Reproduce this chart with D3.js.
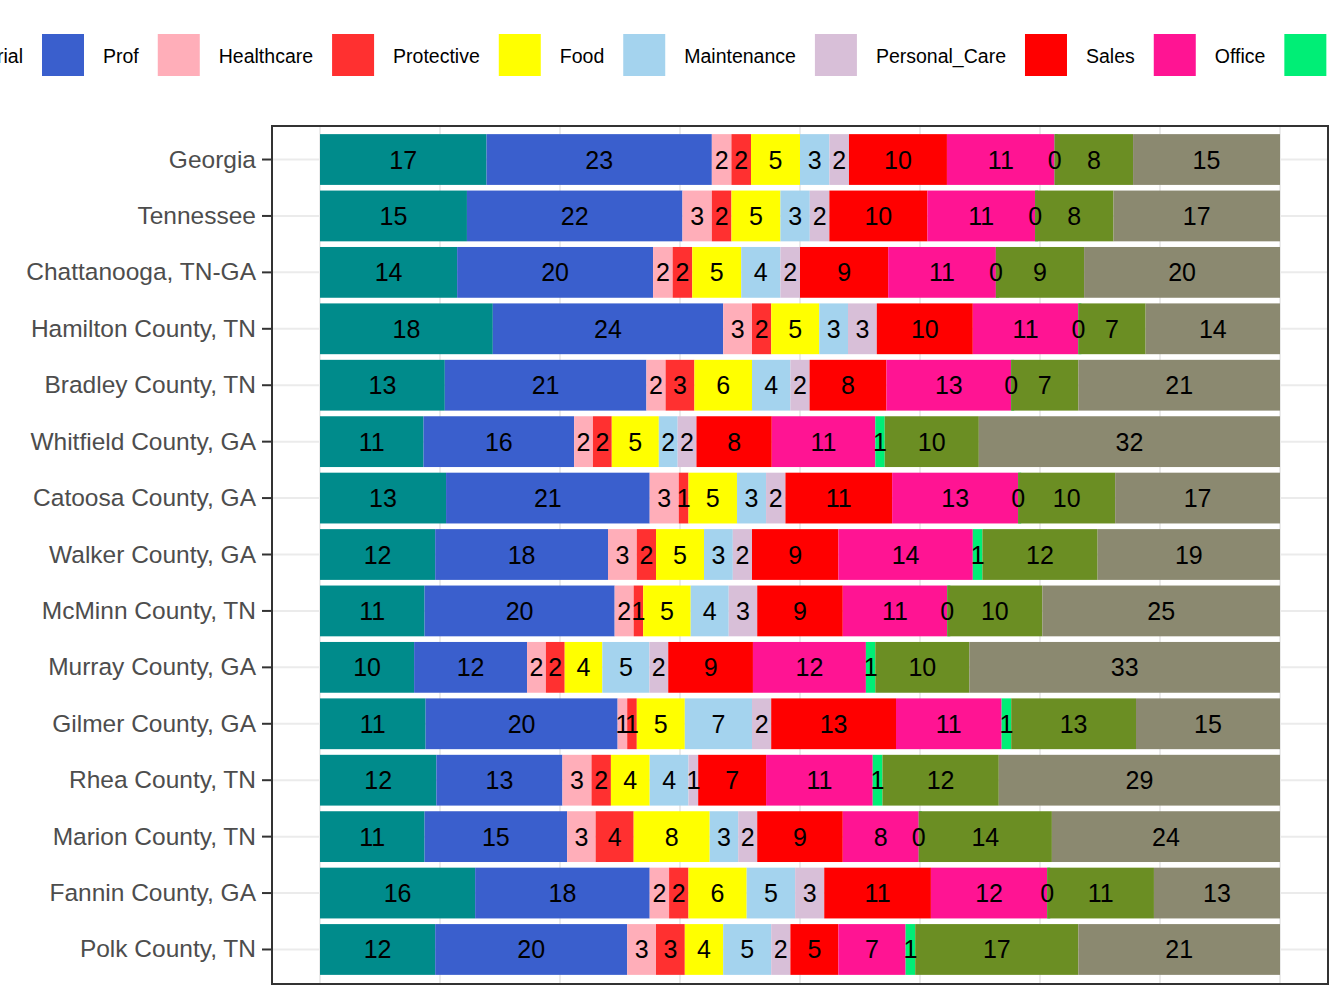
<!doctype html>
<html lang="en">
<head>
  <meta charset="utf-8">
  <title>Occupation mix</title>
  <script src="https://d3js.org/d3.v7.min.js"></script>
  <style>body{margin:0;background:#fff;} text{font-family:'Liberation Sans',Arial,sans-serif;}</style>
</head>
<body>
  <div id="chart"></div>
  <script type="text/javascript">
    var width = 1344, height = 1008;

    // occupation groups, in stack order
    var groups = ['Managerial','Prof','Healthcare','Protective','Food','Maintenance','Personal_Care','Sales','Office','Agriculture','Construction','Production'];
    var colors = ['#008B8B','#3A5FCD','#FFAEB9','#FF3030','#FFFF00','#A4D3EE','#D8BFD8','#FF0000','#FF1493','#00EE76','#6B8E23','#8B8970'];

    var places = ['Georgia','Tennessee','Chattanooga, TN-GA','Hamilton County, TN','Bradley County, TN','Whitfield County, GA','Catoosa County, GA','Walker County, GA','McMinn County, TN','Murray County, GA','Gilmer County, GA','Rhea County, TN','Marion County, TN','Fannin County, GA','Polk County, TN'];

    // percent of workers per group, one row per place
    var values = [
      [17,23,2,2,5,3,2,10,11,0,8,15],
      [15,22,3,2,5,3,2,10,11,0,8,17],
      [14,20,2,2,5,4,2,9,11,0,9,20],
      [18,24,3,2,5,3,3,10,11,0,7,14],
      [13,21,2,3,6,4,2,8,13,0,7,21],
      [11,16,2,2,5,2,2,8,11,1,10,32],
      [13,21,3,1,5,3,2,11,13,0,10,17],
      [12,18,3,2,5,3,2,9,14,1,12,19],
      [11,20,2,1,5,4,3,9,11,0,10,25],
      [10,12,2,2,4,5,2,9,12,1,10,33],
      [11,20,1,1,5,7,2,13,11,1,13,15],
      [12,13,3,2,4,4,1,7,11,1,12,29],
      [11,15,3,4,8,3,2,9,8,0,14,24],
      [16,18,2,2,6,5,3,11,12,0,11,13],
      [12,20,3,3,4,5,2,5,7,1,17,21]
    ];

    var svg = d3.select('#chart').append('svg')
                .attr('width', width).attr('height', height);

    var panel = {left: 272, right: 1328, top: 126, bottom: 984};

    var x = d3.scaleLinear().domain([0, 1]).range([320, 1280]);
    var y = d3.scaleBand().domain(places).range([panel.top + 7, panel.bottom - 8]).paddingInner(0.1).paddingOuter(0.02);

    // gridlines
    svg.append('g').selectAll('line').data(d3.range(0, 1.0001, 0.125)).enter().append('line')
       .attr('x1', function(d){return x(d);}).attr('x2', function(d){return x(d);})
       .attr('y1', panel.top).attr('y2', panel.bottom)
       .attr('stroke', '#ebebeb').attr('stroke-width', 2);
    svg.append('g').selectAll('line').data(places).enter().append('line')
       .attr('x1', panel.left).attr('x2', panel.right)
       .attr('y1', function(d){return y(d) + y.bandwidth()/2;})
       .attr('y2', function(d){return y(d) + y.bandwidth()/2;})
       .attr('stroke', '#ebebeb').attr('stroke-width', 2);

    var rows = places.map(function(p, i){
      var o = {place: p};
      groups.forEach(function(g, j){ o[g] = values[i][j]; });
      return o;
    });
    var series = d3.stack().keys(groups).offset(d3.stackOffsetExpand)(rows);

    var layer = svg.append('g').selectAll('g').data(series).enter().append('g')
                   .attr('fill', function(d, i){ return colors[i]; });
    layer.selectAll('rect').data(function(d){ return d; }).enter().append('rect')
         .attr('x', function(d){ return x(d[0]); })
         .attr('width', function(d){ return Math.max(x(d[1]) - x(d[0]), 3); })
         .attr('y', function(d){ return y(d.data.place); })
         .attr('height', y.bandwidth());

    series.forEach(function(s){
      svg.append('g').selectAll('text').data(s).enter().append('text')
         .attr('x', function(d){ return (x(d[0]) + x(d[1]))/2; })
         .attr('y', function(d){ return y(d.data.place) + y.bandwidth()/2 + 9; })
         .attr('text-anchor', 'middle').attr('font-size', 25).attr('fill', '#000')
         .text(function(d){ return d.data[s.key]; });
    });

    svg.append('rect').attr('x', panel.left).attr('y', panel.top)
       .attr('width', panel.right - panel.left).attr('height', panel.bottom - panel.top)
       .attr('fill', 'none').attr('stroke', '#333').attr('stroke-width', 2);

    // y axis
    var yAxis = svg.append('g').selectAll('g').data(places).enter().append('g');
    yAxis.append('line').attr('x1', 262).attr('x2', panel.left)
         .attr('y1', function(d){return y(d) + y.bandwidth()/2;})
         .attr('y2', function(d){return y(d) + y.bandwidth()/2;})
         .attr('stroke', '#333').attr('stroke-width', 2);
    yAxis.append('text').attr('x', 256)
         .attr('y', function(d){return y(d) + y.bandwidth()/2 + 8;})
         .attr('text-anchor', 'end').attr('font-size', 24.5).attr('fill', '#4d4d4d')
         .text(function(d){return d;});

    // legend, laid out left to right and clipped at the page edge
    var legend = svg.append('g');
    var measure = legend.append('text').attr('font-size', 19.5).text(groups[0]);
    var pos = 42 - 19 - measure.node().getComputedTextLength() - 19 - 42;
    measure.remove();
    groups.forEach(function(g, i){
      legend.append('rect').attr('x', pos).attr('y', 34).attr('width', 42).attr('height', 42)
            .attr('fill', colors[i]);
      var t = legend.append('text').attr('x', pos + 61).attr('y', 63)
                    .attr('font-size', 19.5).attr('fill', '#000').text(g);
      pos += 61 + t.node().getComputedTextLength() + 19;
    });
  </script>
</body>
</html>
